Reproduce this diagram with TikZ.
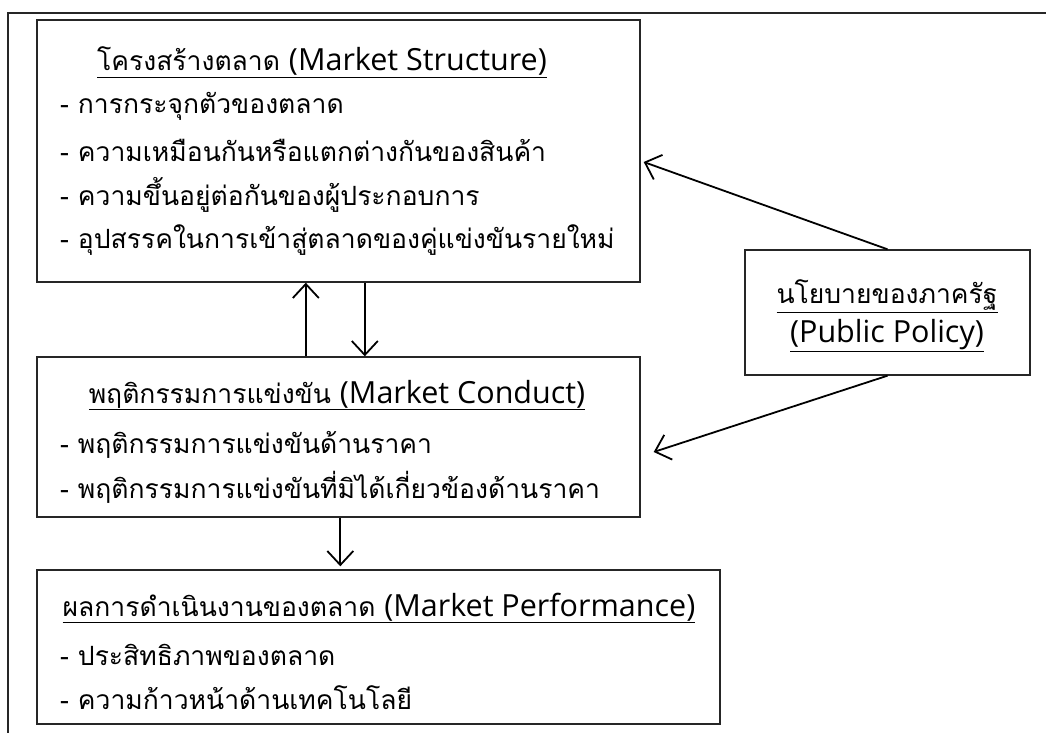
\documentclass[tikz,border=0pt]{standalone}
\usepackage{fontspec}
\setmainfont[Script=Thai]{Loma}
\newfontfamily\latfont{Open Sans}
\newcommand{\lt}[1]{{\latfont\fontsize{30.5}{32}\selectfont #1}}
\usetikzlibrary{arrows.meta,positioning}
\tikzset{
  box/.style={draw=black!85, line width=1.4pt, rectangle, inner sep=0pt},
  txt/.style={anchor=west, inner sep=0pt, font=\fontsize{26.5}{30}\selectfont},
  ttl/.style={anchor=center, inner sep=0pt, font=\fontsize{26.5}{30}\selectfont},
  arr/.style={line width=1.8pt, -{Straight Barb[length=14pt,width=26pt,line width=1.8pt]}},
}
\begin{document}
\begin{tikzpicture}[x=1pt,y=-1pt]
\useasboundingbox (0,0) rectangle (1046,733);
% outer frame
\coordinate (fr) at (1046,13);
\coordinate (fc) at (8,13);
\coordinate (fb) at (8,733);
\draw[line width=1.6pt, black!85] (fr) -- (fc) -- (fb);
% boxes
\node[box, minimum width=603pt, minimum height=262pt] (b1) at (338.5,151) {};
\node[box, minimum width=603pt, minimum height=160pt] (b2) at (338.5,437) {};
\node[box, minimum width=683pt, minimum height=154pt] (b3) at (378.5,647) {};
\node[box, minimum width=285pt, minimum height=125pt] (p) at (887.5,312.5) {};
% box 1 text
\node[ttl] (t1) at (322,62) {\underline{โครงสร้างตลาด \lt{(Market Structure)}}};
\node[txt] (t1a) at (60,106) {- การกระจุกตัวของตลาด};
\node[txt] (t1b) at (60,150) {- ความเหมือนกันหรือแตกต่างกันของสินค้า};
\node[txt] (t1c) at (60,195) {- ความขึ้นอยู่ต่อกันของผู้ประกอบการ};
\node[txt] (t1d) at (60,240) {- อุปสรรคในการเข้าสู่ตลาดของคู่แข่งขันรายใหม่};
% box 2 text
\node[ttl] (t2) at (337,395) {\underline{พฤติกรรมการแข่งขัน \lt{(Market Conduct)}}};
\node[txt] (t2a) at (60,445) {- พฤติกรรมการแข่งขันด้านราคา};
\node[txt] (t2b) at (60,487) {- พฤติกรรมการแข่งขันที่มิได้เกี่ยวข้องด้านราคา};
% box 3 text
\node[ttl] (t3) at (379,608) {\underline{ผลการดำเนินงานของตลาด \lt{(Market Performance)}}};
\node[txt] (t3a) at (60,655) {- ประสิทธิภาพของตลาด};
\node[txt] (t3b) at (60,698) {- ความก้าวหน้าด้านเทคโนโลยี};
% policy text
\node[ttl] (tp1) at (887,296) {\underline{นโยบายของภาครัฐ}};
\node[ttl] (tp2) at (887,336) {\underline{\lt{(Public Policy)}}};
% arrows
\draw[arr] ([xshift=269.5pt]b2.north west) -- ([xshift=269.5pt]b1.south west);
\draw[arr] ([xshift=328.5pt]b1.south west) -- ([xshift=328.5pt]b2.north west);
\draw[arr] ([xshift=304pt]b2.south west) -- ([xshift=304pt,yshift=3pt]b3.north west);
\draw[arr] (p.north) -- ([xshift=3pt,yshift=-11pt]b1.east);
\draw[arr] (p.south) -- ([xshift=13pt,yshift=-15pt]b2.east);
\end{tikzpicture}
\end{document}
